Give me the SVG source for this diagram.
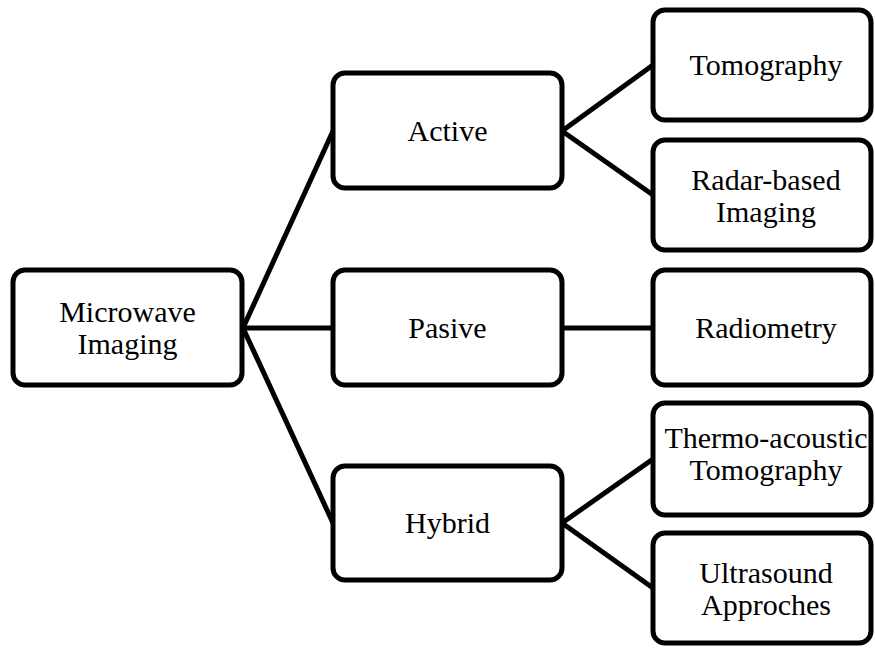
<svg xmlns="http://www.w3.org/2000/svg" width="875" height="648" viewBox="0 0 875 648">
<style>
.box{fill:#fff;stroke:#000;stroke-width:5}
.con{stroke:#000;stroke-width:5;fill:none}
</style>
<rect width="875" height="648" fill="#fff"/>
<g id="connectors">
<line class="con" x1="243" y1="328" x2="333" y2="131"/>
<line class="con" x1="243" y1="328" x2="333" y2="328"/>
<line class="con" x1="243" y1="328" x2="333" y2="523"/>
<line class="con" x1="562" y1="131" x2="653" y2="65"/>
<line class="con" x1="562" y1="131" x2="653" y2="195"/>
<line class="con" x1="562" y1="328" x2="653" y2="328"/>
<line class="con" x1="562" y1="523" x2="653" y2="459"/>
<line class="con" x1="562" y1="523" x2="653" y2="588"/>
</g>
<g font-family="Liberation Serif, serif" font-size="30" fill="#000" text-anchor="middle">
<g id="microwave">
<rect class="box" x="13" y="270" width="229" height="115" rx="12"/>
<text x="127.5" y="322">Microwave</text>
<text x="127.5" y="354">Imaging</text>
</g>
<g id="active">
<rect class="box" x="333" y="73" width="229" height="115" rx="12"/>
<text x="447.5" y="141">Active</text>
</g>
<g id="pasive">
<rect class="box" x="333" y="270" width="229" height="115" rx="12"/>
<text x="447.5" y="338">Pasive</text>
</g>
<g id="hybrid">
<rect class="box" x="333" y="466" width="229" height="114" rx="12"/>
<text x="447.5" y="533">Hybrid</text>
</g>
<g id="tomography">
<rect class="box" x="653" y="10" width="218" height="110" rx="12"/>
<text x="766" y="75">Tomography</text>
</g>
<g id="radar">
<rect class="box" x="653" y="140" width="218" height="110" rx="12"/>
<text x="766" y="190">Radar-based</text>
<text x="766" y="222">Imaging</text>
</g>
<g id="radiometry">
<rect class="box" x="653" y="270" width="218" height="115" rx="12"/>
<text x="766" y="338">Radiometry</text>
</g>
<g id="thermo">
<rect class="box" x="653" y="403" width="218" height="112" rx="12"/>
<text x="766" y="448">Thermo-acoustic</text>
<text x="766" y="480">Tomography</text>
</g>
<g id="ultrasound">
<rect class="box" x="653" y="533" width="218" height="110" rx="12"/>
<text x="766" y="583">Ultrasound</text>
<text x="766" y="615">Approches</text>
</g>
</g>
</svg>
